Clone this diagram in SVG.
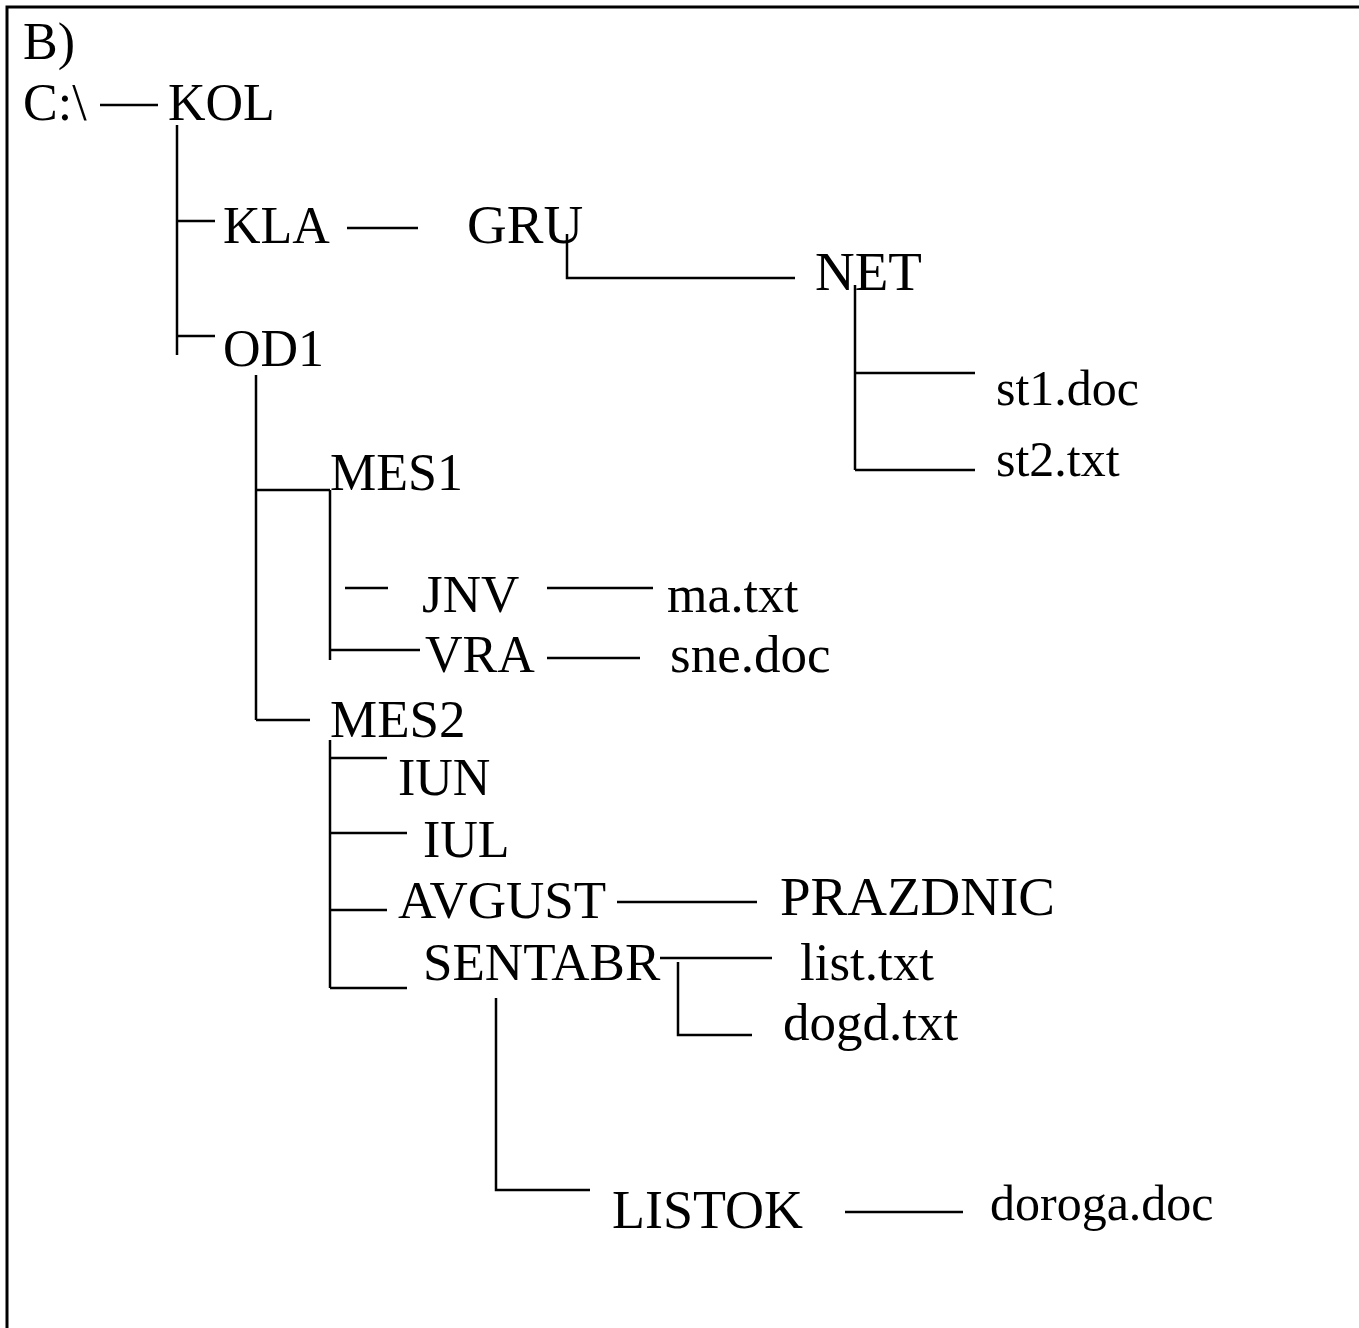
<svg xmlns="http://www.w3.org/2000/svg" width="1359" height="1328" viewBox="0 0 1359 1328">
<style>
text{font-family:"Liberation Serif","Times New Roman",serif;font-size:52px;fill:#000}
.c line,.c path{stroke:#000;stroke-width:2.5;fill:none}
.b{stroke:#000;stroke-width:3;fill:none}
</style>
<rect width="1359" height="1328" fill="#fff"/>
<path class="b" d="M7 1328 V7 H1359"/>
<g id="label-b"><text x="23" y="59">B)</text></g>
<g id="n-c"><text x="23" y="120">C:\</text></g>
<g id="n-kol"><text x="168" y="120">KOL</text></g>
<g id="n-kla"><text x="223" y="243">KLA</text></g>
<g id="n-gru"><text x="467" y="243" style="font-size:55px">GRU</text></g>
<g id="n-net"><text x="815" y="290" style="font-size:55px">NET</text></g>
<g id="n-st1"><text x="996" y="405" style="font-size:50px">st1.doc</text></g>
<g id="n-st2"><text x="996" y="476" style="font-size:50px">st2.txt</text></g>
<g id="n-od1"><text x="223" y="366">OD1</text></g>
<g id="n-mes1"><text x="330" y="490">MES1</text></g>
<g id="n-jnv"><text x="422" y="612" style="font-size:53px">JNV</text></g>
<g id="n-ma"><text x="667" y="612">ma.txt</text></g>
<g id="n-vra"><text x="425" y="672">VRA</text></g>
<g id="n-sne"><text x="670" y="672" style="font-size:53px">sne.doc</text></g>
<g id="n-mes2"><text x="330" y="737" style="font-size:53px">MES2</text></g>
<g id="n-iun"><text x="398" y="795">IUN</text></g>
<g id="n-iul"><text x="423" y="857">IUL</text></g>
<g id="n-avgust"><text x="398" y="918" style="font-size:53px">AVGUST</text></g>
<g id="n-prazdnic"><text x="780" y="915" style="font-size:55px">PRAZDNIC</text></g>
<g id="n-sentabr"><text x="423" y="980" style="font-size:53px">SENTABR</text></g>
<g id="n-list"><text x="800" y="980" style="font-size:53px">list.txt</text></g>
<g id="n-dogd"><text x="783" y="1040" style="font-size:53px">dogd.txt</text></g>
<g id="n-listok"><text x="612" y="1228" style="font-size:54px">LISTOK</text></g>
<g id="n-doroga"><text x="990" y="1220" style="font-size:50px">doroga.doc</text></g>
<g id="connectors" class="c">
<line x1="100" y1="105" x2="158" y2="105"/>
<line x1="177" y1="125" x2="177" y2="355"/>
<line x1="177" y1="221" x2="215" y2="221"/>
<line x1="177" y1="336" x2="215" y2="336"/>
<line x1="347" y1="228" x2="418" y2="228"/>
<path d="M567 234 V278 H795"/>
<line x1="855" y1="285" x2="855" y2="470"/>
<line x1="855" y1="373" x2="975" y2="373"/>
<line x1="855" y1="470" x2="975" y2="470"/>
<line x1="256" y1="375" x2="256" y2="720"/>
<line x1="256" y1="490" x2="330" y2="490"/>
<line x1="256" y1="720" x2="310" y2="720"/>
<line x1="330" y1="490" x2="330" y2="660"/>
<line x1="345" y1="588" x2="388" y2="588"/>
<line x1="330" y1="650" x2="420" y2="650"/>
<line x1="547" y1="588" x2="653" y2="588"/>
<line x1="547" y1="658" x2="640" y2="658"/>
<line x1="330" y1="740" x2="330" y2="988"/>
<line x1="330" y1="758" x2="387" y2="758"/>
<line x1="330" y1="833" x2="407" y2="833"/>
<line x1="330" y1="910" x2="387" y2="910"/>
<line x1="330" y1="988" x2="407" y2="988"/>
<line x1="617" y1="902" x2="757" y2="902"/>
<line x1="660" y1="958" x2="772" y2="958"/>
<path d="M678 962 V1035 H752"/>
<path d="M496 998 V1190 H590"/>
<line x1="845" y1="1212" x2="963" y2="1212"/>
</g>
</svg>
